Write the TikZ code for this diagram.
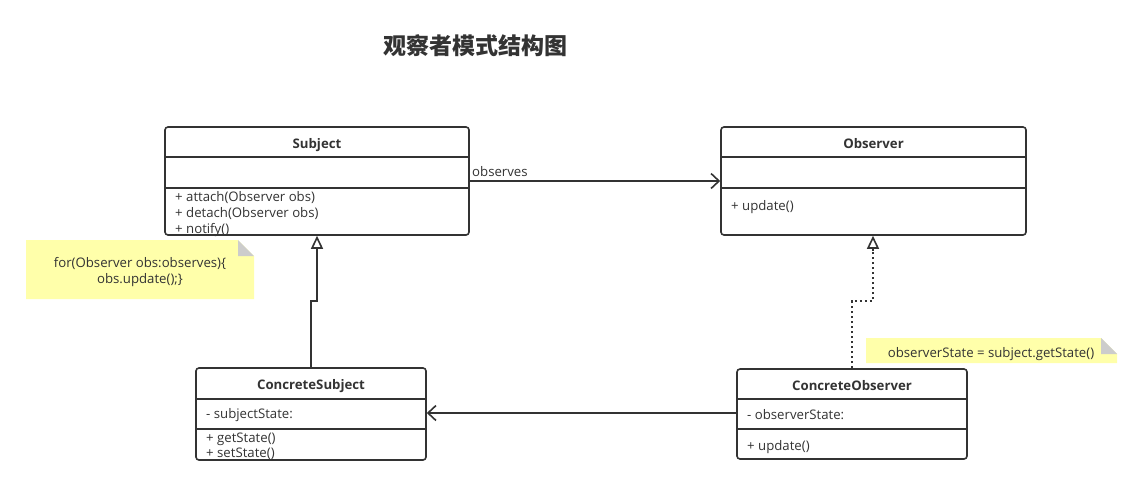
\documentclass[tikz,border=0pt]{standalone}
\usepackage{fontspec}
\setmainfont{Open Sans}
\newfontfamily\cjk{Noto Sans CJK SC}
\usetikzlibrary{arrows.meta}
\definecolor{ink}{HTML}{333333}
\definecolor{notefill}{HTML}{FFFFAA}
\definecolor{foldgray}{HTML}{CCCCCC}
\newcommand{\umlfont}{\fontsize{13.2}{15}\selectfont}
\tikzset{
  umlbox/.style={draw=ink, line width=1.6pt, rounded corners=3pt, fill=white, inner sep=0pt},
  sepline/.style={draw=ink, line width=1.6pt},
  member/.style={anchor=base west, inner sep=0pt, text=ink, font=\umlfont},
  classname/.style={anchor=base, inner sep=0pt, text=ink, font=\umlfont\bfseries},
  notetext/.style={anchor=base, inner sep=0pt, text=ink, font=\umlfont},
  conn/.style={draw=ink, line width=1.6pt},
  assoc/.style={conn, -{Straight Barb[length=8pt, width=15pt, line width=1.6pt]}},
  realize/.style={conn, -{Triangle[open, length=13pt, width=12pt, line width=1.6pt, fill=white]}},
}
\begin{document}
\begin{tikzpicture}[x=1pt, y=-1pt]
  \useasboundingbox (0,0) rectangle (1142,485);
  \fill[white] (0,0) rectangle (1142,485);

  % title
  \node[text=ink, font=\cjk\bfseries\fontsize{23}{27}\selectfont, anchor=center] (title) at (475,46) {观察者模式结构图};

  % Subject class
  \node[umlbox, minimum width=304pt, minimum height=108pt] (subj) at (317,181) {};
  \draw[sepline] (165,157) -- (469,157);
  \draw[sepline] (165,188) -- (469,188);
  \node[classname] (subjname) at (317,148) {Subject};
  \node[member] (subjm1) at (175,201) {+ attach(Observer obs)};
  \node[member] (subjm2) at (175,217) {+ detach(Observer obs)};
  \node[member] (subjm3) at (175,233) {+ notify()};

  % Observer interface
  \node[umlbox, minimum width=305pt, minimum height=108pt] (obs) at (873.5,181) {};
  \draw[sepline] (721,157) -- (1026,157);
  \draw[sepline] (721,188) -- (1026,188);
  \node[classname] (obsname) at (873.5,148) {Observer};
  \node[member] (obsm1) at (731,210) {+ update()};

  % ConcreteSubject class
  \node[umlbox, minimum width=230pt, minimum height=92pt] (csubj) at (311,414) {};
  \draw[sepline] (196,399) -- (426,399);
  \draw[sepline] (196,429) -- (426,429);
  \node[classname] (csubjname) at (311,389) {ConcreteSubject};
  \node[member] (csubja1) at (206,418) {- subjectState:};
  \node[member] (csubjm1) at (206,442) {+ getState()};
  \node[member] (csubjm2) at (206,457) {+ setState()};

  % ConcreteObserver class
  \node[umlbox, minimum width=230pt, minimum height=90pt] (cobs) at (852,414) {};
  \draw[sepline] (737,399) -- (967,399);
  \draw[sepline] (737,429) -- (967,429);
  \node[classname] (cobsname) at (852,390) {ConcreteObserver};
  \node[member] (cobsa1) at (747,419) {- observerState:};
  \node[member] (cobsm1) at (747,450) {+ update()};

  % note for notify()
  \fill[notefill] (26,240) -- (238,240) -- (254,256) -- (254,299) -- (26,299) -- cycle;
  \fill[foldgray] (238,240) -- (254,256) -- (238,256) -- cycle;
  \node[notetext] (note1a) at (140,267) {for(Observer obs:observes)\{};
  \node[notetext] (note1b) at (140,283) {obs.update();\}};

  % note for update()
  \fill[notefill] (866,338) -- (1101,338) -- (1117,354) -- (1117,363) -- (866,363) -- cycle;
  \fill[foldgray] (1101,338) -- (1117,354) -- (1101,354) -- cycle;
  \node[notetext] (note2a) at (991,357) {observerState = subject.getState()};

  % association Subject -> Observer
  \draw[assoc] (subj.east |- 0,181) -- (obs.west |- 0,181);
  \node[anchor=base west, inner sep=0pt, text=ink, font=\umlfont] (obslabel) at (472,176) {observes};

  % generalization ConcreteSubject -> Subject
  \draw[realize] (csubj.north) -- (311,301) -- (317,301) -- (subj.south);

  % realization ConcreteObserver -> Observer (dotted)
  \coordinate (rbend) at (873,301);
  \draw[conn, dash pattern=on 2.5pt off 2.5pt] (cobs.north) -- (852,301) -- (rbend) -- (873,250);
  \draw[realize] (873,251) -- (obs.south -| rbend);

  % association ConcreteObserver -> ConcreteSubject
  \draw[assoc] (cobs.west |- 0,413) -- (csubj.east |- 0,413);
\end{tikzpicture}
\end{document}
